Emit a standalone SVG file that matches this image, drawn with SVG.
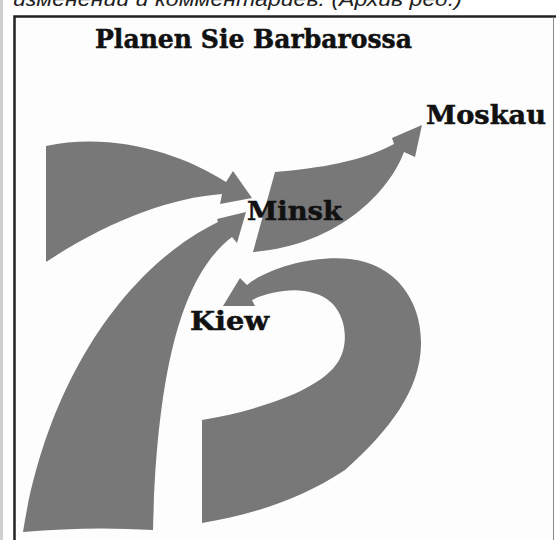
<svg xmlns="http://www.w3.org/2000/svg" width="556" height="540" viewBox="0 0 556 540">
<style>
.lbl{font-family:"DejaVu Serif","Liberation Serif",serif;font-weight:bold;font-size:26px;fill:#111;stroke:#111;stroke-width:0.5}
.arr{fill:#787878;stroke:none}
</style>
<rect x="0" y="0" width="556" height="540" fill="#ffffff"/>
<rect x="0" y="0" width="3" height="540" fill="#cfcfcf"/>
<text x="13" y="6" font-family="'Liberation Sans',Arial,sans-serif" font-style="italic" font-size="21" fill="#222" textLength="449" lengthAdjust="spacingAndGlyphs">изменений и комментариев. (Архив ред.)</text>
<rect x="15" y="17" width="538" height="523" fill="#fdfdfd"/>
<path d="M14.5,540 V16.5 H556" fill="none" stroke="#222" stroke-width="2.5"/>
<line x1="553.5" y1="17" x2="553.5" y2="540" stroke="#888" stroke-width="1"/>
<g id="connectors">
  <path id="arrow-west-minsk" class="arr" d="M46,146 C110,132 180,152 226,182 L233,171 L252,198 L220,204 L222,194 C170,198 110,220 46,262 Z"/>
  <path id="arrow-south-minsk" class="arr" d="M23,532 C45,390 120,270 218,222 L217,219 L246,212 L237,243 L232,237 C200,262 158,320 153,530 Q90,526 23,532 Z"/>
  <path id="arrow-minsk-moskau" class="arr" d="M275,172 C320,168 360,162 394,144 L392,138 L422,125 L415,157 L404,152 C390,190 340,245 253,252 Z"/>
  <path id="arrow-kiew" class="arr" d="M202,420 C260,410 320,390 338,362 C352,340 345,300 313,293 C295,287 268,292 252,300 L255,306 L223,306 L240,278 L247,285 C265,270 310,255 350,259 C395,264 422,300 421,345 C420,390 390,430 345,470 C300,500 250,515 202,523 Z"/>
</g>
<g id="title"><text class="lbl" x="95" y="48" textLength="317" lengthAdjust="spacingAndGlyphs">Planen Sie Barbarossa</text></g>
<g id="moskau"><text class="lbl" x="426" y="124" textLength="120" lengthAdjust="spacingAndGlyphs">Moskau</text></g>
<g id="minsk"><text class="lbl" x="247" y="220" textLength="95" lengthAdjust="spacingAndGlyphs">Minsk</text></g>
<g id="kiew"><text class="lbl" x="190" y="330" textLength="79" lengthAdjust="spacingAndGlyphs">Kiew</text></g>
</svg>
